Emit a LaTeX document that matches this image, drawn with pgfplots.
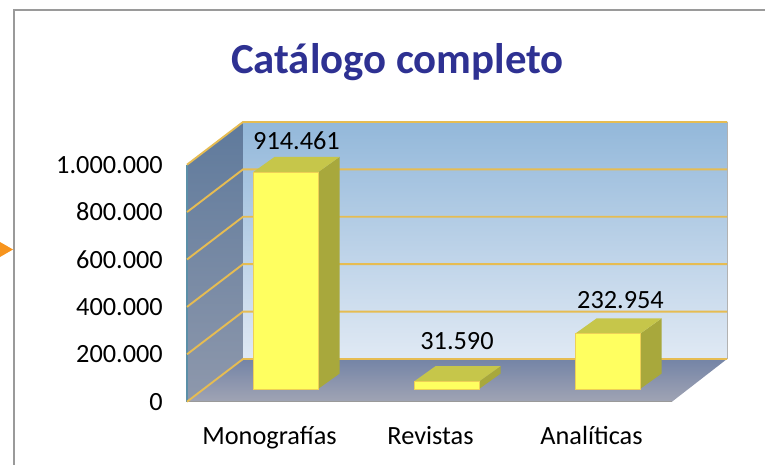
\documentclass[border=0pt]{standalone}
\usepackage{pgfplots}
\pgfplotsset{compat=1.18}
\usepackage{fontspec}
\setmainfont{Carlito}

\definecolor{titlecol}{HTML}{2E3192}
\definecolor{gridgold}{HTML}{E6BC52}
\definecolor{barfront}{HTML}{FFFF60}
\definecolor{barside}{HTML}{A8A83C}
\definecolor{bartop}{HTML}{C6C64A}
\definecolor{frameg}{HTML}{9A9A9A}
\definecolor{wallt}{HTML}{93B8DA}
\definecolor{wallb}{HTML}{E0E9F4}
\definecolor{leftt}{HTML}{5F7A9C}
\definecolor{leftb}{HTML}{8E98AC}
\definecolor{floort}{HTML}{7484A6}
\definecolor{floorb}{HTML}{A0A4B4}
\definecolor{leftedge}{HTML}{5B8FA8}
\definecolor{arrowc}{HTML}{F7941D}

\pgfplotsset{
  face/.style={draw=none,fill=#1,forget plot,yshift=12.7pt},
  front/.style 2 args={ybar,bar width=65pt,fill=barfront,draw=gridgold!70!barfront,line width=.6pt,yshift=12.7pt,
    nodes near coords,
    every node near coord/.append style={anchor=center,inner sep=0pt,xshift=#1,yshift=#2,text=black}},
  gridl/.style={draw=gridgold,line width=1.9pt,line join=miter,forget plot},
}

\begin{document}
\begin{tikzpicture}
\begin{axis}[
    scale only axis,
    width=765pt,
    height=465pt,
    xmin=-1.7733, xmax=2.9783,
    ymin=-267089, ymax=1694937,
    axis line style={draw=none},
    tick style={draw=none},
    xtick={0,1,2},
    xticklabels={Monografías,Revistas,Analíticas},
    x tick label style={anchor=base,inner sep=0pt,xshift=-16pt,yshift=20pt},
    ytick={0,200000,400000,600000,800000,1000000},
    y tick label style={anchor=east,inner sep=0pt,xshift=163pt},
    scaled y ticks=false,
    /pgf/number format/fixed,
    /pgf/number format/precision=0,
    /pgf/number format/1000 sep={.},
    /pgf/number format/assume math mode=true,
    tick label style={font=\fontsize{26.3}{30}\selectfont},
    nodes near coords style={font=\fontsize{26.3}{30}\selectfont},
    title={Catálogo completo},
    title style={at={(0.5195,0.853)},anchor=center,inner sep=0pt,text=titlecol,font=\fontsize{42.8}{50}\selectfont\bfseries},
]
% frame and arrow head
\addplot[draw=frameg,line width=1.6pt,forget plot] coordinates {(-1.6863,-267089) (-1.6863,1652743) (2.9783,1652743)};
\addplot[draw=none,fill=arrowc,forget plot] coordinates {(-1.7733,673840) (-1.6925,642194) (-1.7733,610549)} --cycle;

% walls and floor
\addplot[draw=none,forget plot,top color=wallt,bottom color=wallb]
  coordinates {(-0.2640,180169) (2.7422,180169) (2.7422,1180169) (-0.2640,1180169)} --cycle;
\addplot[draw=none,forget plot,top color=leftt,bottom color=leftb]
  coordinates {(-0.6118,0) (-0.2640,180169) (-0.2640,1180169) (-0.6118,1000000)} --cycle;
\addplot[draw=none,forget plot,top color=floort,bottom color=floorb]
  coordinates {(-0.6118,0) (-0.2640,180169) (2.7422,180169) (2.4006,0)} --cycle;
\addplot[draw=leftedge,line width=1.5pt,forget plot] coordinates {(-0.6118,0) (-0.6118,1000000)};
\addplot[draw=black!30,line width=1pt,forget plot] coordinates {(2.7422,180169) (2.7422,1180169)};
\addplot[draw=frameg,line width=1.5pt,forget plot] coordinates {(-0.6118,0) (2.4006,0)};

% gridlines, along the left wall then the back wall
\addplot[gridl] coordinates {(-0.6118,0) (-0.2640,180169) (2.7422,180169)};
\addplot[gridl] coordinates {(-0.6118,200000) (-0.2640,380169) (2.7422,380169)};
\addplot[gridl] coordinates {(-0.6118,400000) (-0.2640,580169) (2.7422,580169)};
\addplot[gridl] coordinates {(-0.6118,600000) (-0.2640,780169) (2.7422,780169)};
\addplot[gridl] coordinates {(-0.6118,800000) (-0.2640,980169) (2.7422,980169)};
\addplot[gridl] coordinates {(-0.6118,1000000) (-0.2640,1180169) (2.7422,1180169)};

% bars: side and top faces, then front with value label
\addplot[face=barside] coordinates {(0.2019,0) (0.3367,65401) (0.3367,979862) (0.2019,914461)} --cycle;
\addplot[face=bartop] coordinates {(-0.2019,914461) (0.2019,914461) (0.3367,979862) (-0.0671,979862)} --cycle;
\addplot[face=barside] coordinates {(1.2019,0) (1.3367,65401) (1.3367,96991) (1.2019,31590)} --cycle;
\addplot[face=bartop] coordinates {(0.7981,31590) (1.2019,31590) (1.3367,96991) (0.9329,96991)} --cycle;
\addplot[face=barside] coordinates {(2.2019,0) (2.3367,65401) (2.3367,298355) (2.2019,232954)} --cycle;
\addplot[face=bartop] coordinates {(1.7981,232954) (2.2019,232954) (2.3367,298355) (1.9329,298355)} --cycle;

\addplot[front={11pt}{32pt}] coordinates {(0,914461)};
\addplot[front={10.5pt}{40pt}] coordinates {(1,31590)};
\addplot[front={13pt}{34pt}] coordinates {(2,232954)};
\end{axis}
\end{tikzpicture}
\end{document}
